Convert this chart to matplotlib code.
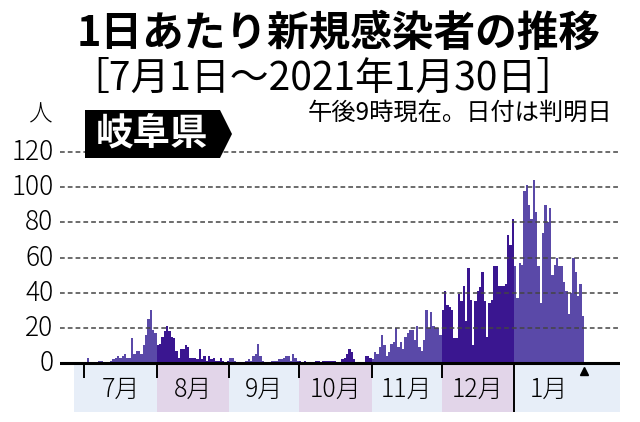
import numpy as np
import matplotlib.pyplot as plt
from matplotlib.patches import Polygon

plt.rcParams['font.family'] = ['Noto Sans CJK JP', 'DejaVu Sans']

# 岐阜県の1日あたり新規感染者数 (2020/7/1 ～ 2021/1/30, 午後9時現在)
month_labels = ['7月', '8月', '9月', '10月', '11月', '12月', '1月']
jul = [0, 3, 0, 0, 0, 0, 1, 1, 0, 0, 0, 1, 2, 3, 4, 3, 4, 5, 3, 3, 14, 5, 7, 7, 5, 10, 16, 25, 30, 19, 17]
aug = [10, 11, 15, 18, 21, 18, 15, 14, 7, 3, 8, 8, 10, 9, 3, 3, 3, 2, 8, 2, 4, 1, 4, 2, 3, 1, 1, 3, 1, 0, 1]
sep = [3, 3, 1, 0, 0, 0, 0, 1, 2, 1, 4, 5, 11, 4, 1, 0, 0, 0, 1, 1, 1, 2, 2, 3, 4, 4, 1, 5, 3, 1]
oct_ = [1, 0, 1, 0, 0, 0, 0, 1, 1, 0, 1, 1, 1, 1, 1, 1, 0, 0, 2, 3, 5, 8, 6, 2, 0, 0, 0, 0, 4, 4, 3]
nov = [2, 6, 5, 9, 16, 10, 4, 6, 11, 12, 20, 9, 12, 8, 15, 17, 19, 19, 13, 21, 9, 7, 13, 30, 20, 29, 21, 20, 20, 16]
dec = [30, 41, 33, 32, 30, 14, 14, 39, 35, 44, 24, 54, 36, 10, 35, 41, 43, 52, 35, 15, 34, 36, 55, 55, 44, 44, 44, 45, 73, 67, 82]
jan = [55, 37, 57, 56, 98, 101, 90, 82, 104, 86, 55, 34, 74, 90, 80, 88, 50, 56, 60, 55, 55, 46, 41, 28, 40, 60, 52, 38, 45, 27]
cases_by_month = [jul, aug, sep, oct_, nov, dec, jan]
y_ticks = [0, 20, 40, 60, 80, 100, 120]

bar_colors = ['#5a49a8', '#3a1690']
band_colors = ['#e7eef8', '#e2d5e9']

fig = plt.figure(figsize=(6.4, 4.22), dpi=100)
ax = fig.add_axes([60 / 640, 10 / 422, 560 / 640, 262 / 422])
x_min, x_max = -10.4, 229.4
y_min, y_max = -27.9, 121.2
ax.set_xlim(x_min, x_max)
ax.set_ylim(y_min, y_max)
ax.axis('off')

edges = np.concatenate([[0], np.cumsum([len(m) for m in cases_by_month])])
for i, vals in enumerate(cases_by_month):
    x = np.arange(edges[i], edges[i + 1])
    ax.bar(x, vals, width=1.0, align='edge', color=bar_colors[i % 2], linewidth=0, zorder=2)

    # 月の帯
    left = -4.4 if i == 0 else edges[i]
    right = x_max if i == len(cases_by_month) - 1 else edges[i + 1]
    ax.fill_between([left, right], y_min, 0, color=band_colors[i % 2], linewidth=0, zorder=1)
    ax.text((edges[i] + edges[i + 1]) / 2, -15.4, month_labels[i], ha='center', va='center',
            fontsize=18, weight='light', zorder=5)

    # 月の区切り (年の変わり目だけ長い線)
    bottom = y_min if month_labels[i] == '1月' else -8.5
    ax.plot([edges[i], edges[i]], [0, bottom], color='black', lw=1.4, zorder=4, solid_capstyle='butt')

for v in y_ticks[1:]:
    ax.axhline(v, color='#444444', lw=1.1, ls=(0, (3.1, 2.0)), zorder=3)
ax.axhline(0, color='black', lw=2.2, zorder=4)
for v in y_ticks:
    ax.text(-13.2, v, str(v), ha='right', va='center', fontsize=19, weight='light', clip_on=False)

ax.plot(edges[-1], -4.3, marker='^', color='black', markersize=6, clip_on=False, zorder=5)

# 見出し・注記はピクセル座標のオーバーレイに描く
ov = fig.add_axes([0, 0, 1, 1], zorder=10)
ov.set_xlim(0, 640)
ov.set_ylim(422, 0)
ov.axis('off')
ov.patch.set_alpha(0)

ov.text(339, 34, '1日あたり新規感染者の推移', ha='center', va='center', fontsize=30, weight='bold')
ov.text(323, 79, '［7月1日～2021年1月30日］', ha='center', va='center', fontsize=28)
ov.text(40, 115, '人', ha='center', va='center', fontsize=17, weight='light')
ov.text(460, 113, '午後9時現在。日付は判明日', ha='center', va='center', fontsize=17.5)

ov.add_patch(Polygon([(85, 110), (220, 110), (232, 134), (220, 158), (85, 158)],
                     closed=True, color='black', lw=0))
ov.text(152, 134, '岐阜県', ha='center', va='center', color='white', fontsize=27, weight='bold')

fig.savefig('out.png', dpi=100)
